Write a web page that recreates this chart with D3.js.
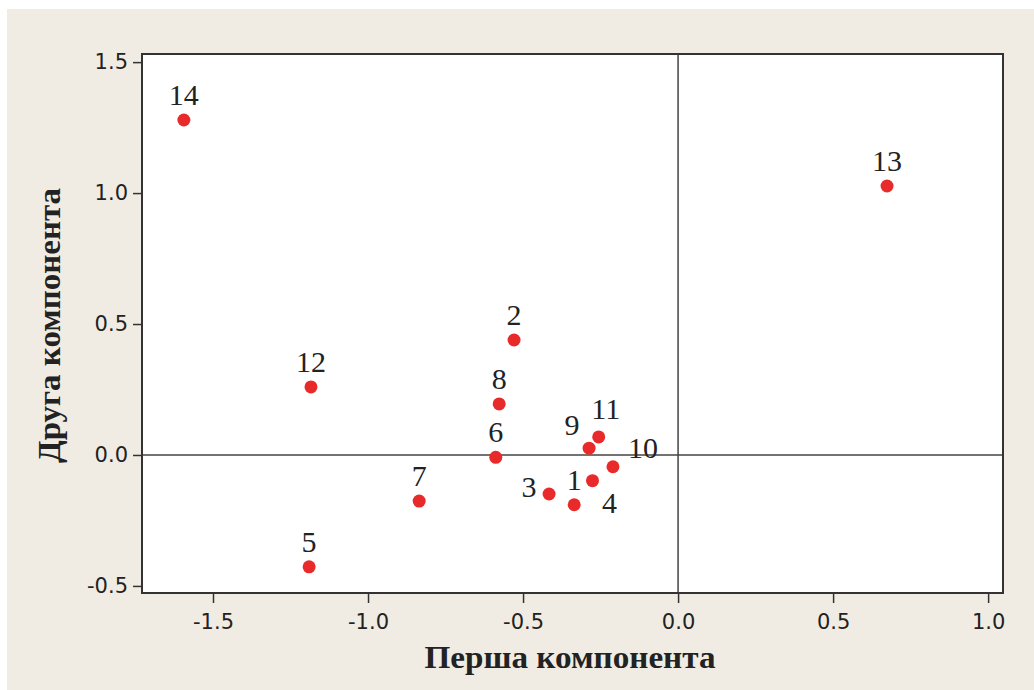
<!DOCTYPE html>
<html><head><meta charset="utf-8">
<script src="https://cdn.jsdelivr.net/npm/d3@7/dist/d3.min.js"></script>
<style>body{margin:0;background:#fff}svg{display:block}</style>
</head><body>
<script>
const labels = ["1","2","3","4","5","6","7","8","9","10","11","12","13","14"];
const xValues = [-0.335,-0.529,-0.416,-0.276,-1.190,-0.588,-0.835,-0.577,-0.287,-0.210,-0.256,-1.184,0.674,-1.594];
const yValues = [-0.190,0.439,-0.149,-0.098,-0.427,-0.009,-0.176,0.195,0.026,-0.045,0.069,0.260,1.027,1.279];
const labelPlace = ["above","above","left","belowRight","above","above","above","above","aboveLeft","right","aboveRight","above","above","above"];
const xTicks = [-1.5,-1.0,-0.5,0.0,0.5,1.0];
const yTicks = [-0.5,0.0,0.5,1.0,1.5];
const xTitle = "Перша компонента";
const yTitle = "Друга компонента";

const W=1034,H=690;
const svg=d3.select("body").append("svg").attr("width",W).attr("height",H);
svg.append("rect").attr("x",7).attr("y",9).attr("width",W-7).attr("height",H-9).attr("fill","#f0ece3");

const L=142,R=1003,T=54,B=593;
const x=d3.scaleLinear().domain([-1.729,1.048]).range([L,R]);
const y=d3.scaleLinear().domain([-0.527,1.531]).range([B,T]);

svg.append("rect").attr("x",L).attr("y",T).attr("width",R-L).attr("height",B-T).attr("fill","#fff");

// zero reference lines
svg.append("line").attr("x1",x(0)).attr("x2",x(0)).attr("y1",T).attr("y2",B).attr("stroke","#444").attr("stroke-width",1.5);
svg.append("line").attr("x1",L).attr("x2",R).attr("y1",y(0)).attr("y2",y(0)).attr("stroke","#444").attr("stroke-width",1.5);

const fmt=d=>d.toFixed(1);
const tickFont='"DejaVu Sans", Verdana, sans-serif';
const xa=svg.append("g").attr("transform",`translate(0,${B})`)
  .call(d3.axisBottom(x).tickValues(xTicks).tickFormat(fmt).tickSize(10).tickPadding(6));
const ya=svg.append("g").attr("transform",`translate(${L},0)`)
  .call(d3.axisLeft(y).tickValues(yTicks).tickFormat(fmt).tickSize(9).tickPadding(5));
[xa,ya].forEach(g=>{
  g.select(".domain").remove();
  g.selectAll(".tick line").attr("stroke","#333").attr("stroke-width",1.5);
  g.selectAll(".tick text").attr("fill","#222").style("font-family",tickFont).style("font-size","21px");
});
xa.selectAll(".tick text").attr("dy","0.95em");

svg.append("rect").attr("x",L).attr("y",T).attr("width",R-L).attr("height",B-T).attr("fill","none").attr("stroke","#333").attr("stroke-width",2);

const data=labels.map((l,i)=>({l,x:xValues[i],y:yValues[i],p:labelPlace[i]}));
const off={above:[0,-15,"middle"],left:[-20,3,"middle"],belowRight:[17,32,"middle"],aboveLeft:[-17,-13,"middle"],right:[30,-9,"middle"],aboveRight:[7,-18,"middle"]};

svg.append("g").selectAll("circle").data(data).join("circle")
  .attr("cx",d=>x(d.x)).attr("cy",d=>y(d.y)).attr("r",6.5).attr("fill","#e82a2a");
svg.append("g").selectAll("text").data(data).join("text")
  .attr("x",d=>x(d.x)+off[d.p][0]).attr("y",d=>y(d.y)+off[d.p][1])
  .attr("text-anchor",d=>off[d.p][2])
  .style("font-family",'"Liberation Serif","Times New Roman",serif').style("font-size","30px").attr("fill","#222")
  .text(d=>d.l);

const titleFont='"Liberation Serif","Times New Roman",serif';
svg.append("text").attr("x",570).attr("y",668).attr("text-anchor","middle")
  .style("font-family",titleFont).style("font-weight","bold").style("font-size","32px").attr("fill","#222")
  .attr("textLength",291).attr("lengthAdjust","spacingAndGlyphs").text(xTitle);
svg.append("text").attr("transform",`translate(60,${(188+463)/2}) rotate(-90)`).attr("text-anchor","middle")
  .style("font-family",titleFont).style("font-weight","bold").style("font-size","32px").attr("fill","#222")
  .attr("textLength",275).attr("lengthAdjust","spacingAndGlyphs").text(yTitle);
</script>
</body></html>
